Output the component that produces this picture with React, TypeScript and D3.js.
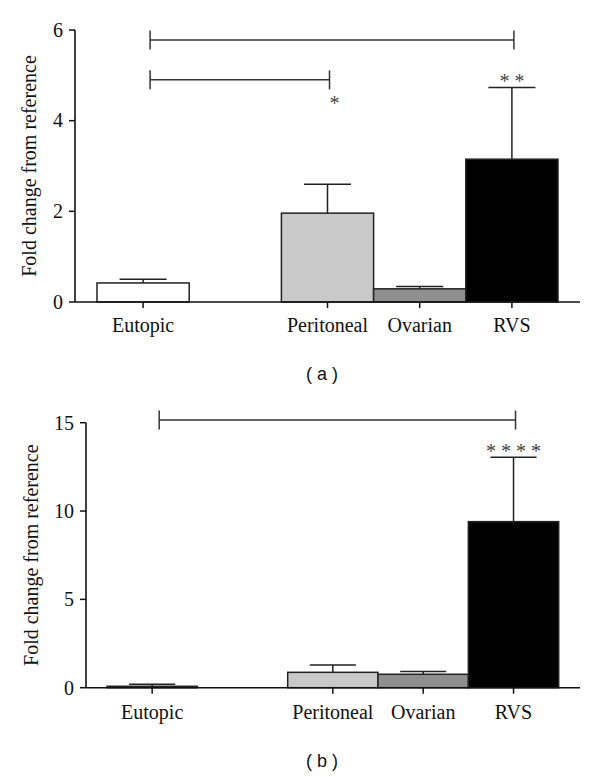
import React from "react";
import * as d3 from "d3";

const slots = ["Eutopic", "gap", "Peritoneal", "Ovarian", "RVS"];
const categories = ["Eutopic", "Peritoneal", "Ovarian", "RVS"];
const fills = ["#ffffff", "#c9c9c9", "#8f8f8f", "#000000"];

const meansA = [0.42, 1.96, 0.29, 3.15];
const semA = [0.08, 0.64, 0.05, 1.58];
const ticksA = [0, 2, 4, 6];

const meansB = [0.08, 0.87, 0.76, 9.4];
const semB = [0.11, 0.41, 0.15, 3.65];
const ticksB = [0, 5, 10, 15];

const bracketsA = [
  { from: "Eutopic", to: "RVS", y: 5.78 },
  { from: "Eutopic", to: "Peritoneal", y: 4.9 },
];
const starsA = [
  { cat: "Peritoneal", label: "*", y: 4.45, dx: 7 },
  { cat: "RVS", label: "* *", y: 4.95, dx: 0 },
];
const bracketsB = [{ from: "Eutopic", to: "RVS", y: 15.15 }];
const starsB = [{ cat: "RVS", label: "* * * *", y: 13.57, dx: 0 }];

const FONT = "Liberation Serif";
const FS = 20;

type PanelProps = {
  means: number[];
  sem: number[];
  ticks: number[];
  yMax: number;
  axisX: number;
  xRange: [number, number];
  yRange: [number, number];
  xEnd: number;
  brackets: { from: string; to: string; y: number }[];
  stars: { cat: string; label: string; y: number; dx: number }[];
  ylabelX: number;
  xlabelY: number;
  panelLabel: string;
  panelLabelY: number;
};

function Panel(p: PanelProps) {
  const x = d3.scaleBand<string>().domain(slots).range(p.xRange).paddingInner(0).paddingOuter(0);
  const y = d3.scaleLinear().domain([0, p.yMax]).range(p.yRange);
  const bw = x.bandwidth();
  const y0 = y(0);
  const cx = (c: string) => (x(c) as number) + bw / 2;
  const capW = bw * 0.51;
  return (
    <g>
      {categories.map((c, i) => {
        const top = y(p.means[i]);
        const errTop = y(p.means[i] + p.sem[i]);
        return (
          <g key={c}>
            <line x1={cx(c)} x2={cx(c)} y1={top} y2={errTop} stroke="#222" strokeWidth={1.5} />
            <line x1={cx(c) - capW / 2} x2={cx(c) + capW / 2} y1={errTop} y2={errTop} stroke="#222" strokeWidth={1.5} />
            <rect
              x={x(c) as number}
              y={top}
              width={bw}
              height={Math.max(y0 - top, 0.5)}
              fill={fills[i]}
              stroke="#222"
              strokeWidth={1.5}
            />
          </g>
        );
      })}
      <line x1={p.axisX} x2={p.axisX} y1={y(p.yMax)} y2={y0} stroke="#111" strokeWidth={1.6} />
      {p.ticks.map((t) => (
        <g key={t}>
          <line x1={p.axisX - 6} x2={p.axisX} y1={y(t)} y2={y(t)} stroke="#111" strokeWidth={1.5} />
          <text x={p.axisX - 12} y={y(t)} dy="0.34em" textAnchor="end" fontFamily={FONT} fontSize={FS} fill="#111">
            {t}
          </text>
        </g>
      ))}
      <line x1={p.axisX} x2={p.xEnd} y1={y0} y2={y0} stroke="#111" strokeWidth={1.6} />
      {categories.map((c) => (
        <g key={c}>
          <line x1={cx(c)} x2={cx(c)} y1={y0} y2={y0 + 6} stroke="#111" strokeWidth={1.5} />
          <text x={cx(c)} y={p.xlabelY} textAnchor="middle" fontFamily={FONT} fontSize={FS} fill="#111">
            {c}
          </text>
        </g>
      ))}
      <text
        transform={`translate(${p.ylabelX},${(y(p.yMax) + y0) / 2}) rotate(-90)`}
        textAnchor="middle"
        fontFamily={FONT}
        fontSize={FS}
        fill="#111"
      >
        Fold change from reference
      </text>
      {p.brackets.map((b, i) => {
        const x1 = cx(b.from) + 7;
        const x2 = cx(b.to) + 2;
        const yy = y(b.y);
        return (
          <g key={i} stroke="#333" strokeWidth={1.5}>
            <line x1={x1} x2={x2} y1={yy} y2={yy} />
            <line x1={x1} x2={x1} y1={yy - 9.5} y2={yy + 9.5} />
            <line x1={x2} x2={x2} y1={yy - 9.5} y2={yy + 9.5} />
          </g>
        );
      })}
      {p.stars.map((s, i) => (
        <text
          key={i}
          x={cx(s.cat) + s.dx}
          y={y(s.y) + 10}
          textAnchor="middle"
          fontFamily={FONT}
          fontSize={FS}
          fill="#444"
        >
          {s.label}
        </text>
      ))}
      <text x={322} y={p.panelLabelY} textAnchor="middle" fontFamily="Liberation Sans" fontSize={18} fill="#111">
        {p.panelLabel}
      </text>
    </g>
  );
}

export default function App() {
  return (
    <svg
      width={600}
      height={777}
      viewBox="0 0 600 777"
      style={{ position: "absolute", left: 0, top: 0, background: "#fff" }}
    >
      <rect width={600} height={777} fill="#fff" />
      <Panel
        means={meansA}
        sem={semA}
        ticks={ticksA}
        yMax={6}
        axisX={75}
        xRange={[97, 558]}
        yRange={[302, 30]}
        xEnd={580}
        brackets={bracketsA}
        stars={starsA}
        ylabelX={36}
        xlabelY={332}
        panelLabel="( a )"
        panelLabelY={380}
      />
      <Panel
        means={meansB}
        sem={semB}
        ticks={ticksB}
        yMax={15}
        axisX={86}
        xRange={[107, 558.7]}
        yRange={[687.7, 422.7]}
        xEnd={580}
        brackets={bracketsB}
        stars={starsB}
        ylabelX={38}
        xlabelY={719}
        panelLabel="( b )"
        panelLabelY={767}
      />
    </svg>
  );
}
